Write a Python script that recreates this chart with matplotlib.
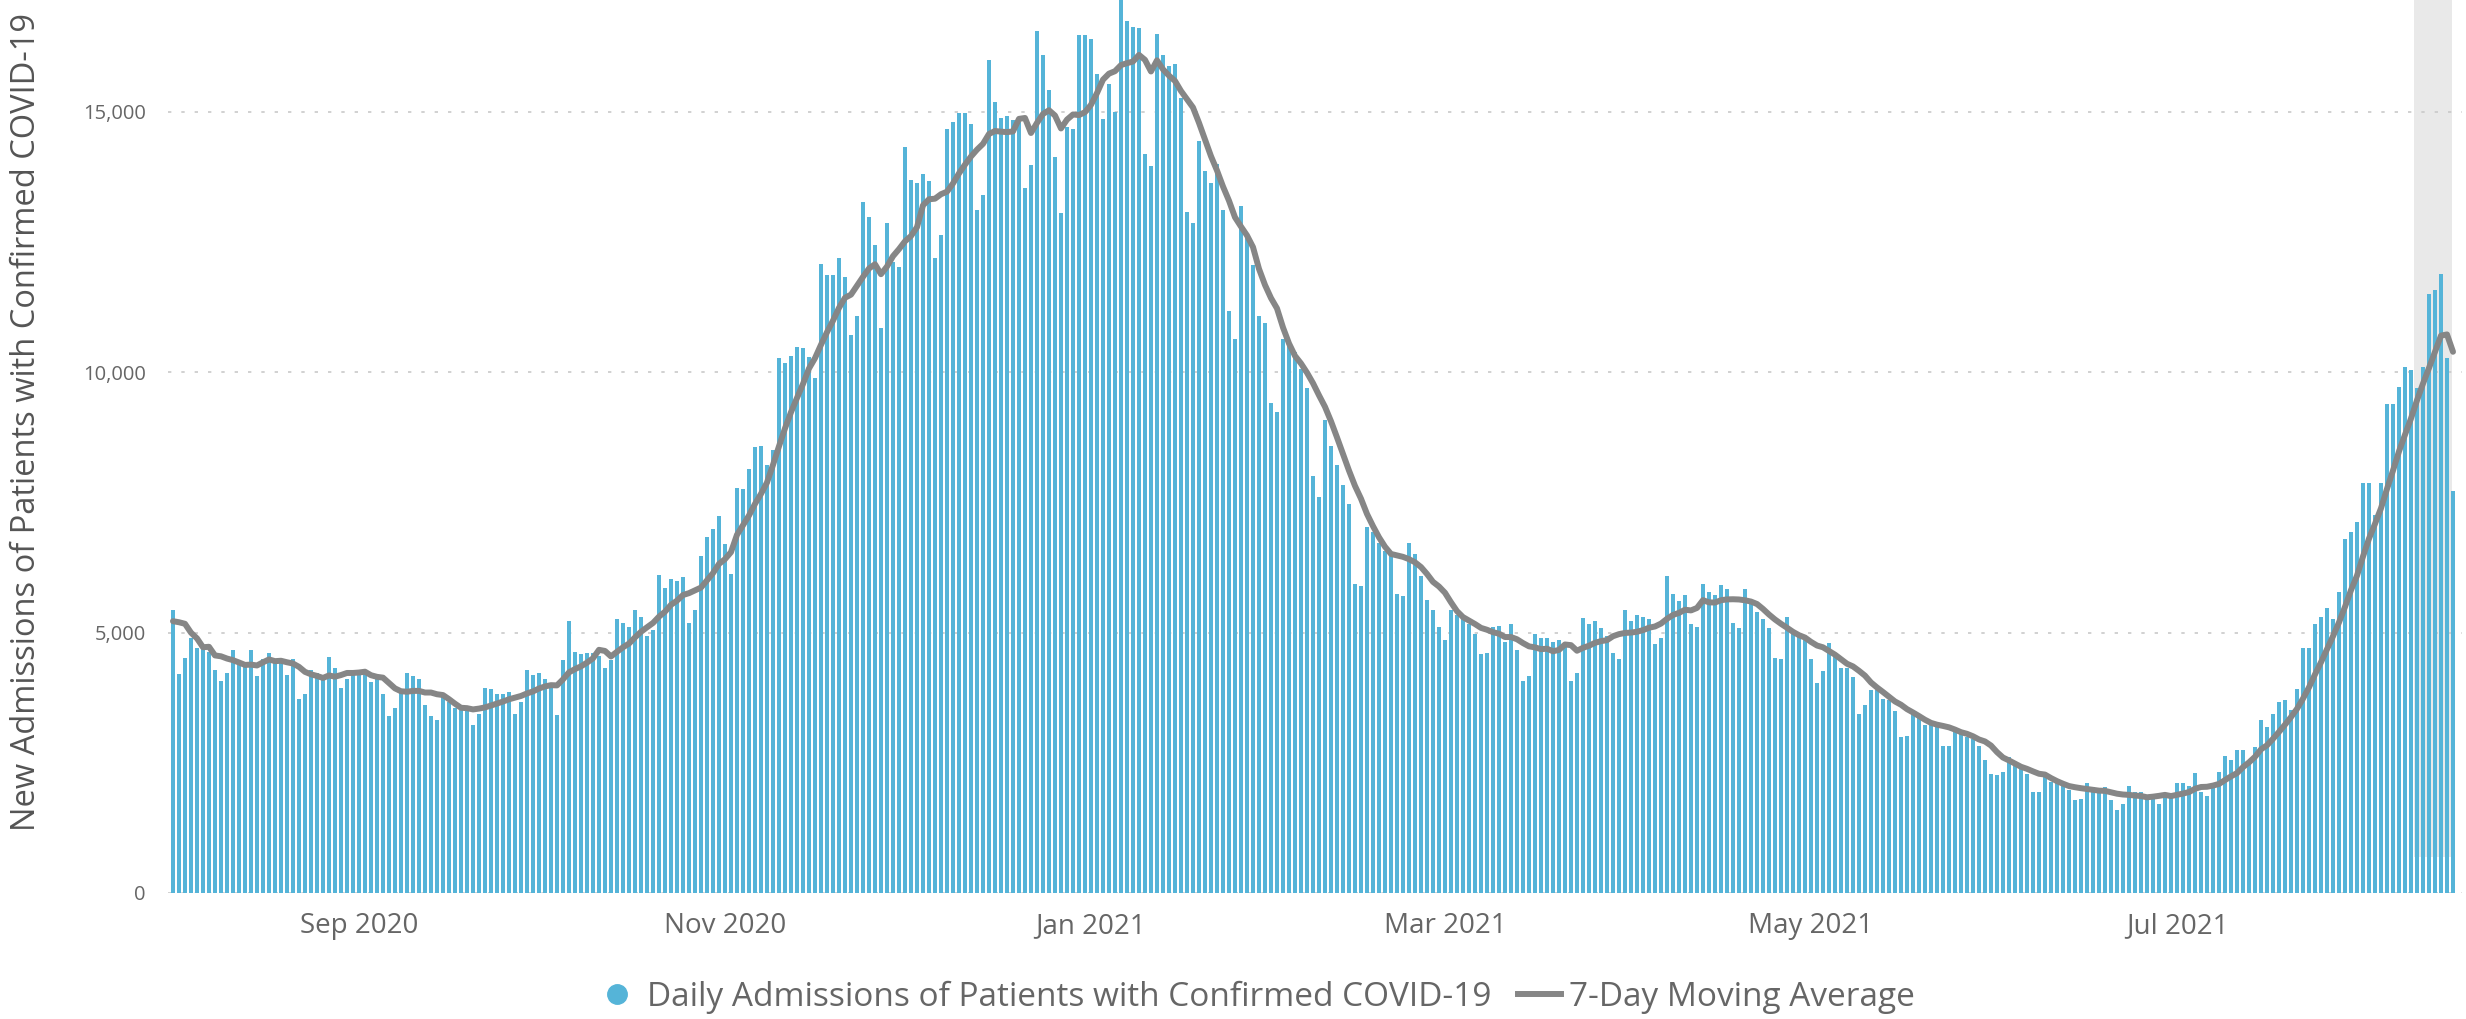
import matplotlib
matplotlib.use("Agg")
import matplotlib.pyplot as plt
from matplotlib.lines import Line2D
import pandas as pd

# daily new admissions, starting 2020-08-01
daily = [
    5440, 4200, 4520, 4890, 4700, 4720, 4630, 4280, 4080, 4220, 4670, 4390, 4390, 4670, 4170, 4500,
    4610, 4440, 4440, 4190, 4500, 3720, 3830, 4280, 4220, 4170, 4530, 4330, 3940, 4110, 4280,
    # Sep 2020
    4280, 4280, 4060, 4110, 3830, 3390, 3560, 3890, 4220, 4170, 4110, 3610, 3390, 3330, 3780, 3670,
    3560, 3560, 3560, 3220, 3440, 3940, 3920, 3830, 3830, 3860, 3440, 3670, 4280, 4190, 4220, 4110,
    4030, 3410, 4480, 5220, 4630, 4590, 4610, 4610, 4550, 4330, 4480, 5260, 5190, 5110, 5440, 5300,
    4940, 5060, 6110, 5860, 6030, 6000, 6060, 5190, 5440, 6480, 6830, 7000, 7240, 6700, 6130, 7780,
    # Nov 2020
    7760, 8140, 8560, 8590, 8220, 8500, 10280, 10170, 10310, 10480, 10470, 10300, 9890, 12080, 11860,
    11860, 12200, 11830, 10720, 11080, 13280, 12980, 12440, 10860, 12860, 12110, 12030, 14330, 13690,
    13630, 13800,
    13670, 12190, 12630, 14670, 14800, 14980, 14980, 14760, 13110, 13410, 16000, 15200, 14890, 14920,
    14850, 14800, 13530, 13980, 16560, 16090, 15420, 14140, 13060, 14720, 14670, 16480, 16480, 16410,
    15720, 14860, 15530, 15000,
    # Jan 2021
    17300, 16740, 16630, 16610, 14190, 13970, 16500, 16090, 15890, 15920, 15260, 13080, 12860, 14440,
    13860, 13630, 14000, 13110, 11170, 10630, 13190, 12670, 12060, 11080, 10940, 9410, 9240, 10630,
    10520, 10390, 10060,
    9700, 8000, 7610, 9080, 8580, 8220, 7830, 7470, 5940, 5890, 7030, 6940, 6720, 6560, 6500, 5740,
    5700, 6720, 6520, 6080, 5630, 5440, 5110, 4860, 5440, 5330, 5280, 5170, 4970, 4590, 4610, 5110,
    # Mar 2021
    5130, 4830, 5170, 4670, 4080, 4170, 4970, 4890, 4890, 4830, 4850, 4810, 4080, 4220, 5280, 5170,
    5220, 5080, 4940, 4610, 4500, 5440, 5220, 5330, 5300, 5260, 4780, 4890, 6080, 5740, 5610, 5720,
    5170, 5110, 5940, 5780, 5720, 5920, 5830, 5190, 5080, 5830, 5610, 5390, 5260, 5080, 4520, 4500,
    5300, 5060, 4940, 4940, 4500, 4030, 4260, 4810, 4560, 4330, 4330, 4140, 3440, 3610, 3890,
    # May 2021
    3890, 3720, 3700, 3500, 3000, 3020, 3440, 3410, 3220, 3280, 3260, 2830, 2830, 3140, 3060, 3000,
    2950, 2830, 2560, 2280, 2260, 2330, 2610, 2520, 2410, 2280, 1940, 1940, 2220, 2140, 2110, 2060,
    1970, 1780, 1810, 2110, 2030, 2000, 2030, 1780, 1590, 1700, 2060, 1940, 1940, 1860, 1860, 1700,
    1830, 1900, 2110, 2110, 2060, 2300, 1940, 1860, 2060, 2330, 2630, 2560, 2740, 2740, 2500, 2810,
    3330,
    3180, 3430, 3670, 3710, 3520, 3920, 4700, 4700, 5170, 5300, 5470, 5260, 5780, 6790, 6940, 7130,
    7870, 7870, 7250, 7870, 9400, 9400, 9710, 10110, 10050, 9700, 10110, 11500, 11580, 11880, 10270,
    7720,
]

avg_start = [5220, 5200, 5170, 5000, 4890, 4720]

month_ticks = ["2020-09-01", "2020-11-01", "2021-01-01", "2021-03-01", "2021-05-01", "2021-07-01"]
month_labels = ["Sep 2020", "Nov 2020", "Jan 2021", "Mar 2021", "May 2021", "Jul 2021"]
y_ticks = [0, 5000, 10000, 15000]

bar_label = "Daily Admissions of Patients with Confirmed COVID-19"
line_label = "7-Day Moving Average"
y_title = "New Admissions of Patients with Confirmed COVID-19"

BLUE = "#55b4d8"
GREY = "#868686"
TXT = "#666666"

plt.rcParams["font.family"] = ["Open Sans", "DejaVu Sans"]

dates = pd.date_range("2020-08-01", periods=len(daily), freq="D")
avg = pd.Series(daily, dtype=float).rolling(7).mean()
avg.iloc[:len(avg_start)] = avg_start

W, H = 2466, 1019
fig = plt.figure(figsize=(W / 100, H / 100), dpi=100)
ax = fig.add_axes([168 / W, 1 - 893 / H, (2462 - 168) / W, 893 / H])

day = pd.Timedelta(days=1)
ax.axvspan(dates[-7] - 0.45 * day, dates[-1] - 0.1 * day, ymin=0.04, color="#e9e9e9", zorder=0, lw=0)
ax.bar(dates, daily, width=0.82, color=BLUE, zorder=2)
ax.plot(dates, avg, color=GREY, lw=4.3, zorder=3, solid_capstyle="round", solid_joinstyle="round")

ax.set_ylim(0, 17150)
ax.set_xlim(dates[0] - 0.83 * day, dates[0] + 381.5 * day)

ax.set_yticks(y_ticks)
ax.set_yticklabels([f"{v:,}" for v in y_ticks])
ax.set_xticks(pd.to_datetime(month_ticks))
ax.set_xticklabels(month_labels)
ax.tick_params(axis="both", length=0, labelcolor=TXT)
ax.tick_params(axis="y", pad=16, labelsize=14.5)
ax.tick_params(axis="x", pad=14, labelsize=20)

ax.grid(axis="y", color="#c9c9c9", lw=1.2, ls=(0, (2, 6)), zorder=1)
ax.grid(axis="x", visible=False)
ax.set_axisbelow(True)
for s in ax.spines.values():
    s.set_visible(False)

fig.text(27 / W, 1 - 422 / H, y_title, rotation=90, ha="center", va="center", fontsize=23.5, color="#555555")

handles = [
    Line2D([], [], marker="o", ls="", color=BLUE, markersize=14),
    Line2D([], [], color=GREY, lw=4.3),
]
fig.legend(handles, [bar_label, line_label], loc="center", bbox_to_anchor=(1255 / W, 22 / H),
           ncol=2, frameon=False, fontsize=24, labelcolor=TXT, handlelength=1.3,
           handletextpad=0.25, columnspacing=0.8)

fig.savefig("out.png", dpi=100)
